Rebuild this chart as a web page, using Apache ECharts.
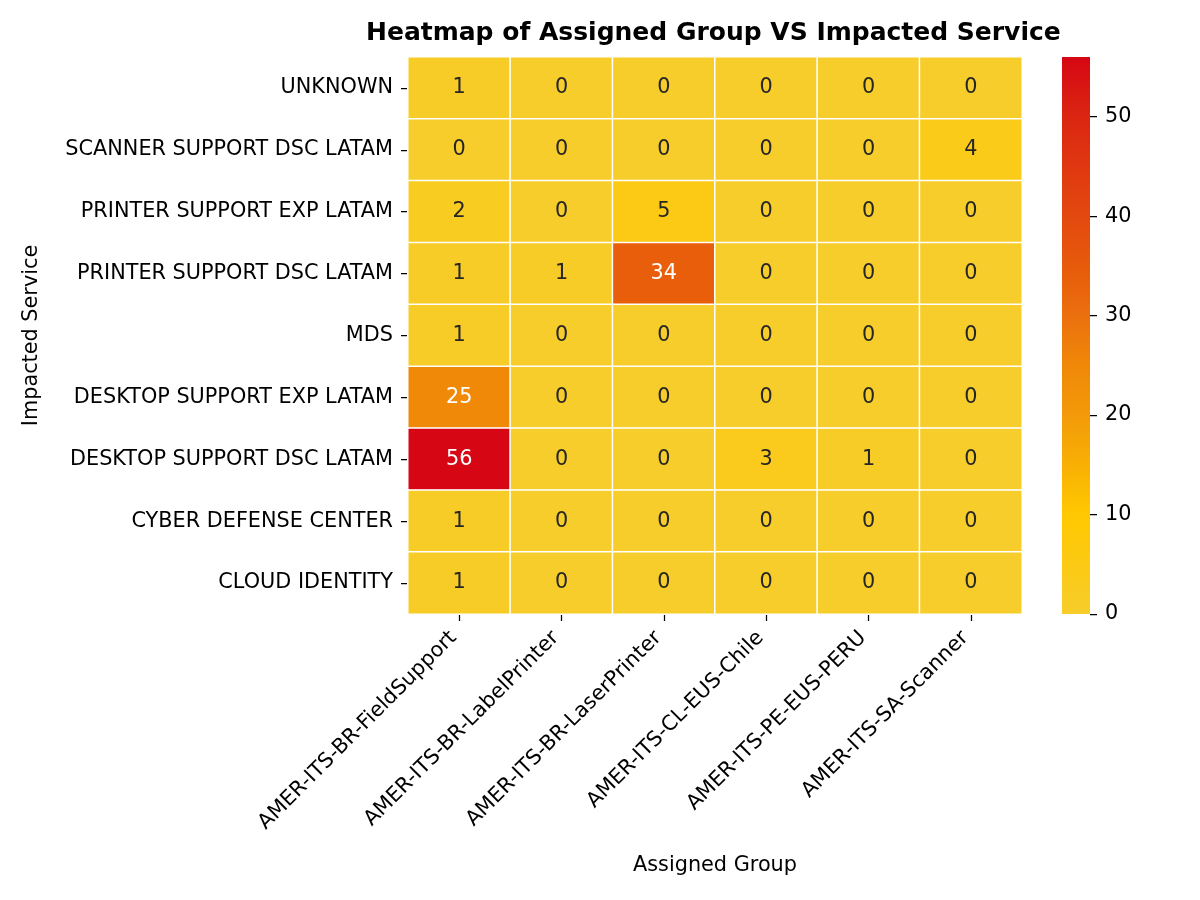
<!DOCTYPE html>
<html><head><meta charset="utf-8">
<script src="https://cdn.jsdelivr.net/npm/echarts@6/dist/echarts.min.js"></script>
<style>html,body{margin:0;padding:0;background:#fff}#c{width:1200px;height:900px}</style>
</head><body><div id="c"></div>
<script>
const groups = ['AMER-ITS-BR-FieldSupport','AMER-ITS-BR-LabelPrinter','AMER-ITS-BR-LaserPrinter','AMER-ITS-CL-EUS-Chile','AMER-ITS-PE-EUS-PERU','AMER-ITS-SA-Scanner'];
const services = ['UNKNOWN','SCANNER SUPPORT DSC LATAM','PRINTER SUPPORT EXP LATAM','PRINTER SUPPORT DSC LATAM','MDS','DESKTOP SUPPORT EXP LATAM','DESKTOP SUPPORT DSC LATAM','CYBER DEFENSE CENTER','CLOUD IDENTITY'];
const rowUNKNOWN = [1,0,0,0,0,0];
const rowScannerDSC = [0,0,0,0,0,4];
const rowPrinterEXP = [2,0,5,0,0,0];
const rowPrinterDSC = [1,1,34,0,0,0];
const rowMDS = [1,0,0,0,0,0];
const rowDesktopEXP = [25,0,0,0,0,0];
const rowDesktopDSC = [56,0,0,3,1,0];
const rowCyber = [1,0,0,0,0,0];
const rowCloud = [1,0,0,0,0,0];
const colorbarTicks = [0,10,20,30,40,50];
const vMin = 0, vMax = 56;

const rows = [rowUNKNOWN,rowScannerDSC,rowPrinterEXP,rowPrinterDSC,rowMDS,rowDesktopEXP,rowDesktopDSC,rowCyber,rowCloud];

// colour map stops (value, colour)
const stops = [[0,'#f7cd2b'],[5,'#fcca14'],[10,'#ffc800'],[15,'#f8b004'],[20,'#f39a09'],[25,'#f08808'],[30,'#eb700e'],[34,'#e85e0b'],[40,'#e3490f'],[50,'#db2612'],[56,'#d60614']];
function hex(c){return [parseInt(c.slice(1,3),16),parseInt(c.slice(3,5),16),parseInt(c.slice(5,7),16)];}
function colAt(v){
  for(let i=0;i<stops.length-1;i++){
    const [a,ca]=stops[i],[b,cb]=stops[i+1];
    if(v>=a&&v<=b){const t=(v-a)/(b-a);const A=hex(ca),B=hex(cb);
      return 'rgb('+A.map((x,k)=>Math.round(x+(B[k]-x)*t)).join(',')+')';}
  }
  return stops[stops.length-1][1];
}
const palette=[];for(let v=vMin;v<=vMax;v+=1)palette.push(colAt(v));
const gradStops=stops.map(([v,c])=>({offset:1-(v-vMin)/(vMax-vMin),color:c})).reverse();

const data=[];
rows.forEach((r,yi)=>r.forEach((v,xi)=>{
  data.push({value:[xi,yi,v],label:{color: v>=20?'#ffffff':'#262626'}});
}));

const FONT='DejaVu Sans';
const FS=20.8;
const TICK={show:true,length:7,lineStyle:{color:'#000',width:1.25}};
const chart=echarts.init(document.getElementById('c'),null,{renderer:'canvas'});
chart.setOption({
  backgroundColor:'#fff',
  animation:false,
  textStyle:{fontFamily:FONT},
  title:{text:'Heatmap of Assigned Group VS Impacted Service',left:366,top:21,padding:0,
    textStyle:{fontFamily:FONT,fontSize:25,fontWeight:'bold',color:'#000'}},
  grid:[{left:408,top:57,width:614,height:557},{left:1062,top:57,width:28,height:557}],
  xAxis:[{type:'category',data:groups,gridIndex:0,
    axisLine:{show:false},axisTick:Object.assign({alignWithLabel:true},TICK),
    axisLabel:{rotate:45,fontSize:FS,color:'#000',fontFamily:FONT,margin:15,interval:0,padding:[0,8,0,0]},
    splitLine:{show:false},
    name:'Assigned Group',nameLocation:'middle',nameGap:241,nameTextStyle:{fontSize:FS,color:'#000',fontFamily:FONT}},
    {type:'category',gridIndex:1,show:false,data:['cb'],boundaryGap:true}],
  yAxis:[{type:'category',data:services,inverse:true,gridIndex:0,
    axisLine:{show:false},axisTick:Object.assign({alignWithLabel:true},TICK),
    axisLabel:{fontSize:FS,color:'#000',fontFamily:FONT,margin:15,interval:0},
    splitLine:{show:false},
    name:'Impacted Service',nameLocation:'middle',nameGap:366,nameRotate:90,nameTextStyle:{fontSize:FS,color:'#000',fontFamily:FONT}},
    {type:'value',gridIndex:1,position:'right',min:vMin,max:vMax,interval:10,
     axisLine:{show:false},axisTick:Object.assign({customValues:colorbarTicks},TICK),
     axisLabel:{fontSize:FS,color:'#000',fontFamily:FONT,margin:15,customValues:colorbarTicks},
     splitLine:{show:false}}],
  visualMap:{type:'continuous',min:vMin,max:vMax,show:false,
    inRange:{color:palette},seriesIndex:0},
  series:[{type:'heatmap',xAxisIndex:0,yAxisIndex:0,data:data,
    itemStyle:{borderColor:'#fff',borderWidth:1.5},
    label:{show:true,fontSize:FS,fontFamily:FONT,formatter:p=>String(p.value[2])},
    emphasis:{disabled:true}},
    {type:'bar',xAxisIndex:1,yAxisIndex:1,data:[vMax],barWidth:'100%',silent:true,
     itemStyle:{color:new echarts.graphic.LinearGradient(0,0,0,1,gradStops)}}]
});
</script></body></html>
